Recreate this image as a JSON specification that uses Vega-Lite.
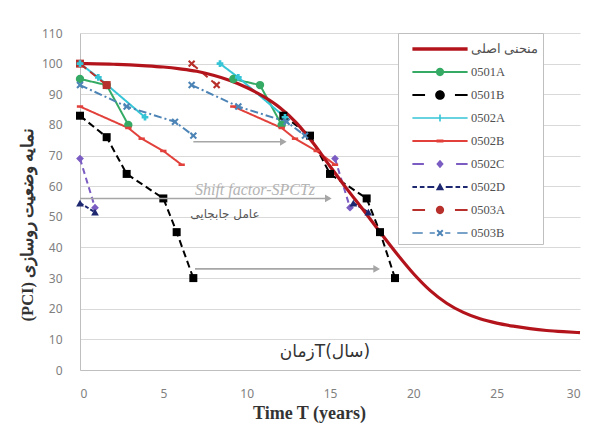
{
  "$schema": "https://vega.github.io/schema/vega-lite/v6.json",
  "width": 500,
  "height": 337,
  "autosize": {"type": "none"},
  "padding": {"left": 80, "top": 33, "right": 23, "bottom": 53},
  "background": "white",
  "config": {"view": {"stroke": null}, "font": "Liberation Sans"},
  "datasets": {
    "pts": [
      {"series": "منحنی اصلی", "grp": "main", "t": 0, "pci": 100},
      {"series": "منحنی اصلی", "grp": "main", "t": 1, "pci": 99.95},
      {"series": "منحنی اصلی", "grp": "main", "t": 2, "pci": 99.8},
      {"series": "منحنی اصلی", "grp": "main", "t": 3, "pci": 99.6},
      {"series": "منحنی اصلی", "grp": "main", "t": 4, "pci": 99.3},
      {"series": "منحنی اصلی", "grp": "main", "t": 5, "pci": 98.9},
      {"series": "منحنی اصلی", "grp": "main", "t": 6, "pci": 98.3},
      {"series": "منحنی اصلی", "grp": "main", "t": 7, "pci": 97.5},
      {"series": "منحنی اصلی", "grp": "main", "t": 8, "pci": 96.2},
      {"series": "منحنی اصلی", "grp": "main", "t": 9, "pci": 94.5},
      {"series": "منحنی اصلی", "grp": "main", "t": 10, "pci": 92.2},
      {"series": "منحنی اصلی", "grp": "main", "t": 11, "pci": 89.3},
      {"series": "منحنی اصلی", "grp": "main", "t": 12, "pci": 85.6},
      {"series": "منحنی اصلی", "grp": "main", "t": 13, "pci": 80.6},
      {"series": "منحنی اصلی", "grp": "main", "t": 14, "pci": 74},
      {"series": "منحنی اصلی", "grp": "main", "t": 15, "pci": 66.5},
      {"series": "منحنی اصلی", "grp": "main", "t": 16, "pci": 59.2},
      {"series": "منحنی اصلی", "grp": "main", "t": 17, "pci": 52.2},
      {"series": "منحنی اصلی", "grp": "main", "t": 18, "pci": 45},
      {"series": "منحنی اصلی", "grp": "main", "t": 19, "pci": 38},
      {"series": "منحنی اصلی", "grp": "main", "t": 20, "pci": 31.5},
      {"series": "منحنی اصلی", "grp": "main", "t": 21, "pci": 26},
      {"series": "منحنی اصلی", "grp": "main", "t": 22, "pci": 21.8},
      {"series": "منحنی اصلی", "grp": "main", "t": 23, "pci": 18.8},
      {"series": "منحنی اصلی", "grp": "main", "t": 24, "pci": 16.7},
      {"series": "منحنی اصلی", "grp": "main", "t": 25, "pci": 15.3},
      {"series": "منحنی اصلی", "grp": "main", "t": 26, "pci": 14.3},
      {"series": "منحنی اصلی", "grp": "main", "t": 27, "pci": 13.5},
      {"series": "منحنی اصلی", "grp": "main", "t": 28, "pci": 12.9},
      {"series": "منحنی اصلی", "grp": "main", "t": 29, "pci": 12.5},
      {"series": "منحنی اصلی", "grp": "main", "t": 30, "pci": 12.2},
      {"series": "0501A", "grp": "0501A", "t": 0, "pci": 95},
      {"series": "0501A", "grp": "0501A", "t": 1.6, "pci": 93},
      {"series": "0501A", "grp": "0501A", "t": 2.9, "pci": 80},
      {"series": "0501A", "grp": "0501A s", "t": 9.2, "pci": 95},
      {"series": "0501A", "grp": "0501A s", "t": 10.8, "pci": 93},
      {"series": "0501A", "grp": "0501A s", "t": 12.1, "pci": 80},
      {"series": "0501B", "grp": "0501B", "t": 0, "pci": 83},
      {"series": "0501B", "grp": "0501B", "t": 1.6, "pci": 76},
      {"series": "0501B", "grp": "0501B", "t": 2.8, "pci": 64},
      {"series": "0501B", "grp": "0501B", "t": 5, "pci": 56},
      {"series": "0501B", "grp": "0501B", "t": 5.8, "pci": 45},
      {"series": "0501B", "grp": "0501B", "t": 6.8, "pci": 30},
      {"series": "0501B", "grp": "0501B s", "t": 12.2, "pci": 83},
      {"series": "0501B", "grp": "0501B s", "t": 13.8, "pci": 76.5},
      {"series": "0501B", "grp": "0501B s", "t": 15, "pci": 64},
      {"series": "0501B", "grp": "0501B s", "t": 17.2, "pci": 56},
      {"series": "0501B", "grp": "0501B s", "t": 18, "pci": 45},
      {"series": "0501B", "grp": "0501B s", "t": 18.9, "pci": 30},
      {"series": "0502A", "grp": "0502A", "t": 0, "pci": 100},
      {"series": "0502A", "grp": "0502A", "t": 1.1, "pci": 95.5},
      {"series": "0502A", "grp": "0502A", "t": 3.9, "pci": 82.5},
      {"series": "0502A", "grp": "0502A s", "t": 8.4, "pci": 100},
      {"series": "0502A", "grp": "0502A s", "t": 9.5, "pci": 95.5},
      {"series": "0502A", "grp": "0502A s", "t": 12.3, "pci": 82.5},
      {"series": "0502B", "grp": "0502B", "t": 0, "pci": 86},
      {"series": "0502B", "grp": "0502B", "t": 2.9, "pci": 79},
      {"series": "0502B", "grp": "0502B", "t": 3.7, "pci": 75.5},
      {"series": "0502B", "grp": "0502B", "t": 5, "pci": 71.5},
      {"series": "0502B", "grp": "0502B", "t": 6.1, "pci": 67},
      {"series": "0502B", "grp": "0502B s", "t": 9.2, "pci": 86},
      {"series": "0502B", "grp": "0502B s", "t": 12.1, "pci": 79},
      {"series": "0502B", "grp": "0502B s", "t": 12.9, "pci": 75.5},
      {"series": "0502B", "grp": "0502B s", "t": 14.2, "pci": 71.5},
      {"series": "0502B", "grp": "0502B s", "t": 15.3, "pci": 67},
      {"series": "0502C", "grp": "0502C", "t": 0, "pci": 69},
      {"series": "0502C", "grp": "0502C", "t": 0.9, "pci": 53},
      {"series": "0502C", "grp": "0502C s", "t": 15.3, "pci": 69},
      {"series": "0502C", "grp": "0502C s", "t": 16.2, "pci": 53},
      {"series": "0502D", "grp": "0502D", "t": 0, "pci": 54.5},
      {"series": "0502D", "grp": "0502D", "t": 0.9, "pci": 51.5},
      {"series": "0502D", "grp": "0502D s", "t": 16.4, "pci": 54.5},
      {"series": "0502D", "grp": "0502D s", "t": 17.3, "pci": 51.5},
      {"series": "0503A", "grp": "0503A", "t": 0, "pci": 100},
      {"series": "0503A", "grp": "0503A", "t": 1.6, "pci": 93},
      {"series": "0503A", "grp": "0503A s", "t": 6.7, "pci": 100},
      {"series": "0503A", "grp": "0503A s", "t": 8.2, "pci": 93},
      {"series": "0503B", "grp": "0503B", "t": 0, "pci": 93},
      {"series": "0503B", "grp": "0503B", "t": 2.8, "pci": 86},
      {"series": "0503B", "grp": "0503B", "t": 5.7, "pci": 81},
      {"series": "0503B", "grp": "0503B", "t": 6.8, "pci": 76.5},
      {"series": "0503B", "grp": "0503B s", "t": 6.7, "pci": 93},
      {"series": "0503B", "grp": "0503B s", "t": 9.5, "pci": 86},
      {"series": "0503B", "grp": "0503B s", "t": 12.4, "pci": 81},
      {"series": "0503B", "grp": "0503B s", "t": 13.5, "pci": 76.5}
    ]
  },
  "encoding": {
    "x": {
      "field": "t", "type": "quantitative",
      "scale": {"domain": [0, 30], "nice": false, "zero": false},
      "axis": {
        "title": "Time T (years)", "values": [0, 5, 10, 15, 20, 25, 30],
        "grid": false, "ticks": false, "domainColor": "#bfbfbf",
        "labelColor": "#808080", "labelFont": "Noto Sans", "labelFontSize": 12, "labelPadding": 18,
        "titleFont": "Liberation Serif", "titleFontSize": 18, "titleFontWeight": "bold", "titleColor": "#333333",
        "titleX": 229, "titleY": 43, "titleBaseline": "middle", "titleAlign": "center"
      }
    },
    "y": {
      "field": "pci", "type": "quantitative",
      "scale": {"domain": [0, 110], "nice": false, "zero": false},
      "axis": {
        "title": "(PCI) نمایه وضعیت روسازی", "values": [0, 10, 20, 30, 40, 50, 60, 70, 80, 90, 100, 110],
        "grid": true, "gridColor": "#d9d9d9", "ticks": false, "domainColor": "#bfbfbf",
        "labelColor": "#808080", "labelFont": "Noto Sans", "labelFontSize": 12, "labelPadding": 18,
        "titleFont": "Liberation Serif", "titleFontSize": 16.5, "titleFontWeight": "bold", "titleColor": "#333333",
        "titleX": -53, "titleY": 191, "titleBaseline": "middle", "titleAlign": "center", "titleAngle": 270
      }
    },
    "color": {"field": "series", "type": "nominal", "legend": null,
      "scale": {"domain": ["0501A", "0501B", "0502A", "0502B", "0502C", "0502D", "0503A", "0503B", "منحنی اصلی"],
                "range": ["#35aa64", "#000000", "#36c5d6", "#e2413b", "#7a5cc2", "#1d2870", "#b8302b", "#4d84b6", "#b3141c"]}}
  },
  "layer": [
    {
      "data": {"name": "pts"},
      "transform": [{"filter": "datum.grp !== 'main'"}],
      "mark": {"type": "line"},
      "encoding": {
        "detail": {"field": "grp"},
        "strokeDash": {"field": "series", "type": "nominal", "legend": null,
          "scale": {"domain": ["0501A", "0501B", "0502A", "0502B", "0502C", "0502D", "0503A", "0503B", "منحنی اصلی"],
                    "range": [[1, 0], [7, 4], [1, 0], [1, 0], [6, 4], [4, 2], [8, 5], [8, 3, 2, 3], [1, 0]]}},
        "strokeWidth": {"field": "series", "type": "nominal", "legend": null,
          "scale": {"domain": ["0501A", "0501B", "0502A", "0502B", "0502C", "0502D", "0503A", "0503B", "منحنی اصلی"],
                    "range": [2, 2, 1.6, 2, 2, 2, 2, 2, 3]}}
      }
    },
    {
      "data": {"name": "pts"},
      "transform": [{"filter": "datum.grp === 'main'"}],
      "mark": {"type": "line", "interpolate": "monotone", "strokeWidth": 3.2},
      "encoding": {}
    },
    {
      "data": {"name": "pts"},
      "transform": [{"filter": {"field": "grp", "oneOf": ["0501A", "0501A s"]}}],
      "mark": {"type": "point", "filled": true, "opacity": 1, "shape": "circle", "size": 70},
      "encoding": {}
    },
    {
      "data": {"name": "pts"},
      "transform": [{"filter": {"field": "grp", "oneOf": ["0501B", "0501B s", "0503A"]}}],
      "mark": {"type": "point", "filled": true, "opacity": 1, "shape": "square", "size": 64},
      "encoding": {}
    },
    {
      "data": {"name": "pts"},
      "transform": [{"filter": {"field": "grp", "oneOf": ["0502A", "0502A s"]}}],
      "mark": {"type": "point", "filled": true, "opacity": 1, "shape": "cross", "size": 45},
      "encoding": {}
    },
    {
      "data": {"name": "pts"},
      "transform": [{"filter": {"field": "grp", "oneOf": ["0502B", "0502B s"]}}],
      "mark": {"type": "point", "filled": true, "opacity": 1, "shape": "M-1,-0.4H1V0.4H-1Z", "size": 40},
      "encoding": {}
    },
    {
      "data": {"name": "pts"},
      "transform": [{"filter": {"field": "grp", "oneOf": ["0502C", "0502C s"]}}],
      "mark": {"type": "point", "filled": true, "opacity": 1, "shape": "diamond", "size": 60},
      "encoding": {}
    },
    {
      "data": {"name": "pts"},
      "transform": [{"filter": {"field": "grp", "oneOf": ["0502D", "0502D s"]}}],
      "mark": {"type": "point", "filled": true, "opacity": 1, "shape": "triangle-up", "size": 60},
      "encoding": {}
    },
    {
      "data": {"name": "pts"},
      "transform": [{"filter": {"field": "grp", "oneOf": ["0503A s", "0503B", "0503B s"]}}],
      "mark": {"type": "point", "filled": true, "opacity": 1, "shape": "M-1,-0.6L-0.6,-1L0,-0.4L0.6,-1L1,-0.6L0.4,0L1,0.6L0.6,1L0,0.4L-0.6,1L-1,0.6L-0.4,0Z", "size": 55},
      "encoding": {}
    },
    {
      "data": {"values": [
        {"t": 6.8, "t2": 12.2, "pci": 74.5},
        {"t": 0, "t2": 14.9, "pci": 56},
        {"t": 6.9, "t2": 17.8, "pci": 33}
      ]},
      "mark": {"type": "rule", "strokeWidth": 1.6},
      "encoding": {"x2": {"field": "t2"}, "color": {"value": "#a6a6a6"}}
    },
    {
      "data": {"values": [
        {"t": 12.2, "pci": 74.5},
        {"t": 14.9, "pci": 56},
        {"t": 17.8, "pci": 33}
      ]},
      "mark": {"type": "point", "shape": "triangle-right", "filled": true, "size": 60, "opacity": 1},
      "encoding": {"color": {"value": "#a6a6a6"}}
    },
    {
      "data": {"values": [{"t": 10.5, "pci": 58.8, "label": "Shift factor-SPCTz"}]},
      "mark": {"type": "text", "font": "Liberation Serif", "fontStyle": "italic", "fontSize": 16, "align": "center", "baseline": "middle"},
      "encoding": {"text": {"field": "label"}, "color": {"value": "#b3b3b3"}}
    },
    {
      "data": {"values": [{"t": 8.7, "pci": 51, "label": "عامل جابجایی"}]},
      "mark": {"type": "text", "font": "DejaVu Sans", "fontSize": 12, "align": "center", "baseline": "middle", "dir": "rtl"},
      "encoding": {"text": {"field": "label"}, "color": {"value": "#555555"}}
    },
    {
      "data": {"values": [{"t": 14.7, "pci": 6, "label": "زمانT(سال)"}]},
      "mark": {"type": "text", "font": "DejaVu Sans", "fontSize": 17, "align": "center", "baseline": "middle", "dir": "rtl"},
      "encoding": {"text": {"field": "label"}, "color": {"value": "#333333"}}
    },
    {
      "data": {"name": "pts"},
      "mark": {"type": "point", "filled": true, "opacity": 0, "strokeWidth": 0},
      "encoding": {
        "color": {"value": "#000000"},
        "fill": {"field": "series", "type": "nominal",
          "scale": {"domain": ["منحنی اصلی", "0501A", "0501B", "0502A", "0502B", "0502C", "0502D", "0503A", "0503B"],
                    "range": ["#b3141c", "#35aa64", "#000000", "#36c5d6", "#e2413b", "#7a5cc2", "#1d2870", "#b8302b", "#4d84b6"]},
          "legend": {"orient": "none", "legendX": 318, "legendY": 0, "title": null, "padding": 4.5,
            "fillColor": "white", "strokeColor": "#bfbfbf", "symbolSize": 529, "symbolStrokeWidth": 0, "symbolOpacity": 1,
            "symbolOffset": 26, "labelOffset": 19.5, "labelFont": "Liberation Serif", "labelFontSize": 12.5, "labelColor": "#505050",
            "rowPadding": 5,
            "encode": {"labels": {"update": {"text": {"signal": "datum.label + '\u00a0\u00a0\u00a0\u00a0\u00a0\u00a0\u00a0\u00a0\u00a0\u00a0\u00a0\u00a0\u00a0\u00a0\u00a0\u00a0\u00a0\u00a0\u00a0\u00a0'"}}}}}},
        "shape": {"field": "series", "type": "nominal",
          "scale": {"domain": ["منحنی اصلی", "0501A", "0501B", "0502A", "0502B", "0502C", "0502D", "0503A", "0503B"],
                    "range": [
                      "M-2.4,-0.15H2.4V0.15H-2.4Z",
                      "M-2.4,-0.09H2.4V0.09H-2.4Z M-0.36,0A0.36,0.36 0 1,1 0.36,0A0.36,0.36 0 1,1 -0.36,0Z",
                      "M-2.4,-0.09H-1.3V0.09H-2.4Z M1.3,-0.09H2.4V0.09H1.3Z M-0.42,0A0.42,0.42 0 1,1 0.42,0A0.42,0.42 0 1,1 -0.42,0Z",
                      "M-2.4,-0.07H2.4V0.07H-2.4Z M-0.07,-0.3H0.07V0.3H-0.07Z M-0.3,-0.07H0.3V0.07H-0.3Z",
                      "M-2.4,-0.09H2.4V0.09H-2.4Z M-0.3,-0.14H0.3V0.14H-0.3Z",
                      "M-2.4,-0.09H-1.4V0.09H-2.4Z M1.4,-0.09H2.4V0.09H1.4Z M0,-0.36L0.32,0L0,0.36L-0.32,0Z",
                      "M-2.4,-0.09H-2V0.09H-2.4Z M-1.75,-0.09H-1.35V0.09H-1.75Z M-1.1,-0.09H-0.5V0.09H-1.1Z M0.5,-0.09H1.1V0.09H0.5Z M1.35,-0.09H1.75V0.09H1.35Z M2,-0.09H2.4V0.09H2Z M0,-0.36L0.36,0.28H-0.36Z",
                      "M-2.4,-0.09H-1.3V0.09H-2.4Z M1.3,-0.09H2.4V0.09H1.3Z M-0.36,0A0.36,0.36 0 1,1 0.36,0A0.36,0.36 0 1,1 -0.36,0Z",
                      "M-2.4,-0.07H-1.5V0.07H-2.4Z M-0.9,-0.07H-0.45V0.07H-0.9Z M0.45,-0.07H0.9V0.07H0.45Z M1.5,-0.07H2.4V0.07H1.5Z M-0.3,-0.18L-0.18,-0.3L0,-0.12L0.18,-0.3L0.3,-0.18L0.12,0L0.3,0.18L0.18,0.3L0,0.12L-0.18,0.3L-0.3,0.18L-0.12,0Z"
                    ]},
          "legend": {"orient": "none", "legendX": 318, "legendY": 0, "title": null, "padding": 4.5,
            "fillColor": "white", "strokeColor": "#bfbfbf", "symbolSize": 529, "symbolStrokeWidth": 0, "symbolOpacity": 1,
            "symbolOffset": 26, "labelOffset": 19.5, "labelFont": "Liberation Serif", "labelFontSize": 12.5, "labelColor": "#505050",
            "rowPadding": 5,
            "encode": {"labels": {"update": {"text": {"signal": "datum.label + '\u00a0\u00a0\u00a0\u00a0\u00a0\u00a0\u00a0\u00a0\u00a0\u00a0\u00a0\u00a0\u00a0\u00a0\u00a0\u00a0\u00a0\u00a0\u00a0\u00a0'"}}}}}}
      }
    }
  ]
}
